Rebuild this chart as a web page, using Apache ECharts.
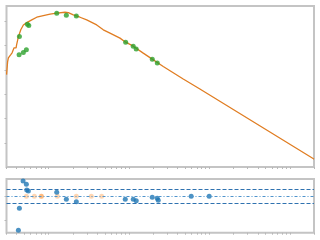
<!DOCTYPE html>
<html><head><meta charset="utf-8">
<script src="https://cdn.jsdelivr.net/npm/echarts@6/dist/echarts.min.js"></script>
<style>html,body{margin:0;padding:0;background:#fff}#c{width:320px;height:240px}</style>
</head><body><div id="c"></div>
<script>
// Model curve (top panel)
const modelX = [0.3007,0.3027,0.3095,0.3167,0.3277,0.3373,0.3440,0.3520,0.3653,0.3727,0.3836,0.3947,0.4004,0.4215,0.4515,0.4863,0.5361,0.6183,0.7136,0.8618,1.044,1.264,1.603,1.762,2.033,2.462,2.982,3.970,4.794,5.807,7.731,9.100,11.31,15.05,19.47,26.68,47.27,76.21,1947,2000];
const modelY = [-44.0,-42.4,-33.5,-30.2,-29.4,-27.8,-29.4,-26.1,-24.5,-22.0,-21.2,-22.0,-19.6,-13.1,-7.3,-3.3,-1.4,0.8,3.0,4.3,5.5,6.3,7.1,6.8,4.9,3.0,0.8,-3.3,-7.3,-10.0,-14.1,-17.4,-20.7,-26.4,-31.3,-37.3,-47.6,-55.7,-112.7,-113.2];
// Observed points (top panel)
const obsX = [0.430,0.486,0.530,0.434,0.545,0.568,1.264,1.664,2.215,9.10,11.3,12.3,19.5,22.5];
const obsY = [-27.8,-25.9,-23.7,-12.8,-2.7,-3.8,6.3,4.7,4.1,-17.4,-20.7,-23.1,-31.3,-34.5];
// Residuals (bottom panel)
const resX = [0.4215,0.4338,0.4822,0.5300,0.5361,0.5612,1.264,1.664,2.215,8.995,11.31,12.32,19.47,22.46,23.12,59.41,99.4];
const resY = [-4.87,-1.73,2.17,1.70,0.89,0.74,0.56,-0.44,-0.79,-0.44,-0.44,-0.64,-0.16,-0.30,-0.59,0,0];
const exclX = [0.530,0.666,0.814,0.814,1.286,2.215,3.401,4.58];
const exclY = [0,0,0,0,0,0,0,0];
const bandLevels = [-1, 1];
const zeroLevel = 0;
// Tick positions
const xTicks = [0.3,0.4,0.5,0.6,0.7,0.8,0.9,1,2,3,4,5,6,7,8,9,10,20,30,40,50,60,70,80,90,100,200,300,400,500,600,700,800,900,1000,2000];
const yTopTicks = [0,-20,-40,-60,-80,-100];
const yBotTicks = [0,-3.5];

const zip = (a,b) => a.map((v,i)=>[v,b[i]]);
const chart = echarts.init(document.getElementById('c'), null, {renderer:'canvas'});
const gridStyle = {show:true, borderColor:'#c4c4c4', borderWidth:2, backgroundColor:'transparent'};
const xAx = (gi) => ({type:'log', logBase:10, gridIndex:gi, min:0.3, max:2000, position:'bottom',
  axisLine:{show:false, onZero:false}, splitLine:{show:false}, axisLabel:{show:false},
  axisTick:{show:true, length:2, customValues:xTicks, lineStyle:{color:'#b8b8b8', width:1}}});
const yAx = (gi, mn, mx, ticks) => ({type:'value', gridIndex:gi, min:mn, max:mx, position:'left',
  axisLine:{show:false, onZero:false}, splitLine:{show:false}, axisLabel:{show:false},
  axisTick:{show:true, length:2, customValues:ticks, lineStyle:{color:'#b8b8b8', width:1}}});
chart.setOption({
  animation:false,
  backgroundColor:'#fff',
  grid:[
    Object.assign({left:6.5, right:6, top:6, height:161}, gridStyle),
    Object.assign({left:6.5, right:6, top:179, height:53.7}, gridStyle)
  ],
  xAxis:[xAx(0), xAx(1)],
  yAxis:[yAx(0,-119.6,12.2,yTopTicks), yAx(1,-5.21,2.46,yBotTicks)],
  series:[
    {type:'line', xAxisIndex:0, yAxisIndex:0, data:zip(modelX,modelY), showSymbol:false,
     lineStyle:{color:'#e07d22', width:1.3}, z:2},
    {type:'scatter', xAxisIndex:0, yAxisIndex:0, data:zip(obsX,obsY), symbolSize:5,
     itemStyle:{color:'#2ca02c'}, z:3},
    {type:'scatter', xAxisIndex:1, yAxisIndex:1, data:zip(exclX,exclY), symbolSize:5,
     itemStyle:{color:'rgba(255,127,14,0.4)'}, z:3,
     markLine:{silent:true, symbol:'none', label:{show:false},
       data:[{yAxis:zeroLevel, lineStyle:{color:'#4f93cc', type:[3,2,1,2], width:1.2}},
             {yAxis:bandLevels[0], lineStyle:{color:'#2f72b0', type:[4,2], width:1.2}},
             {yAxis:bandLevels[1], lineStyle:{color:'#2f72b0', type:[4,2], width:1.2}}]}},
    {type:'scatter', xAxisIndex:1, yAxisIndex:1, data:zip(resX,resY), symbolSize:5,
     itemStyle:{color:'#1f77b4'}, z:4}
  ]
});
</script></body></html>
